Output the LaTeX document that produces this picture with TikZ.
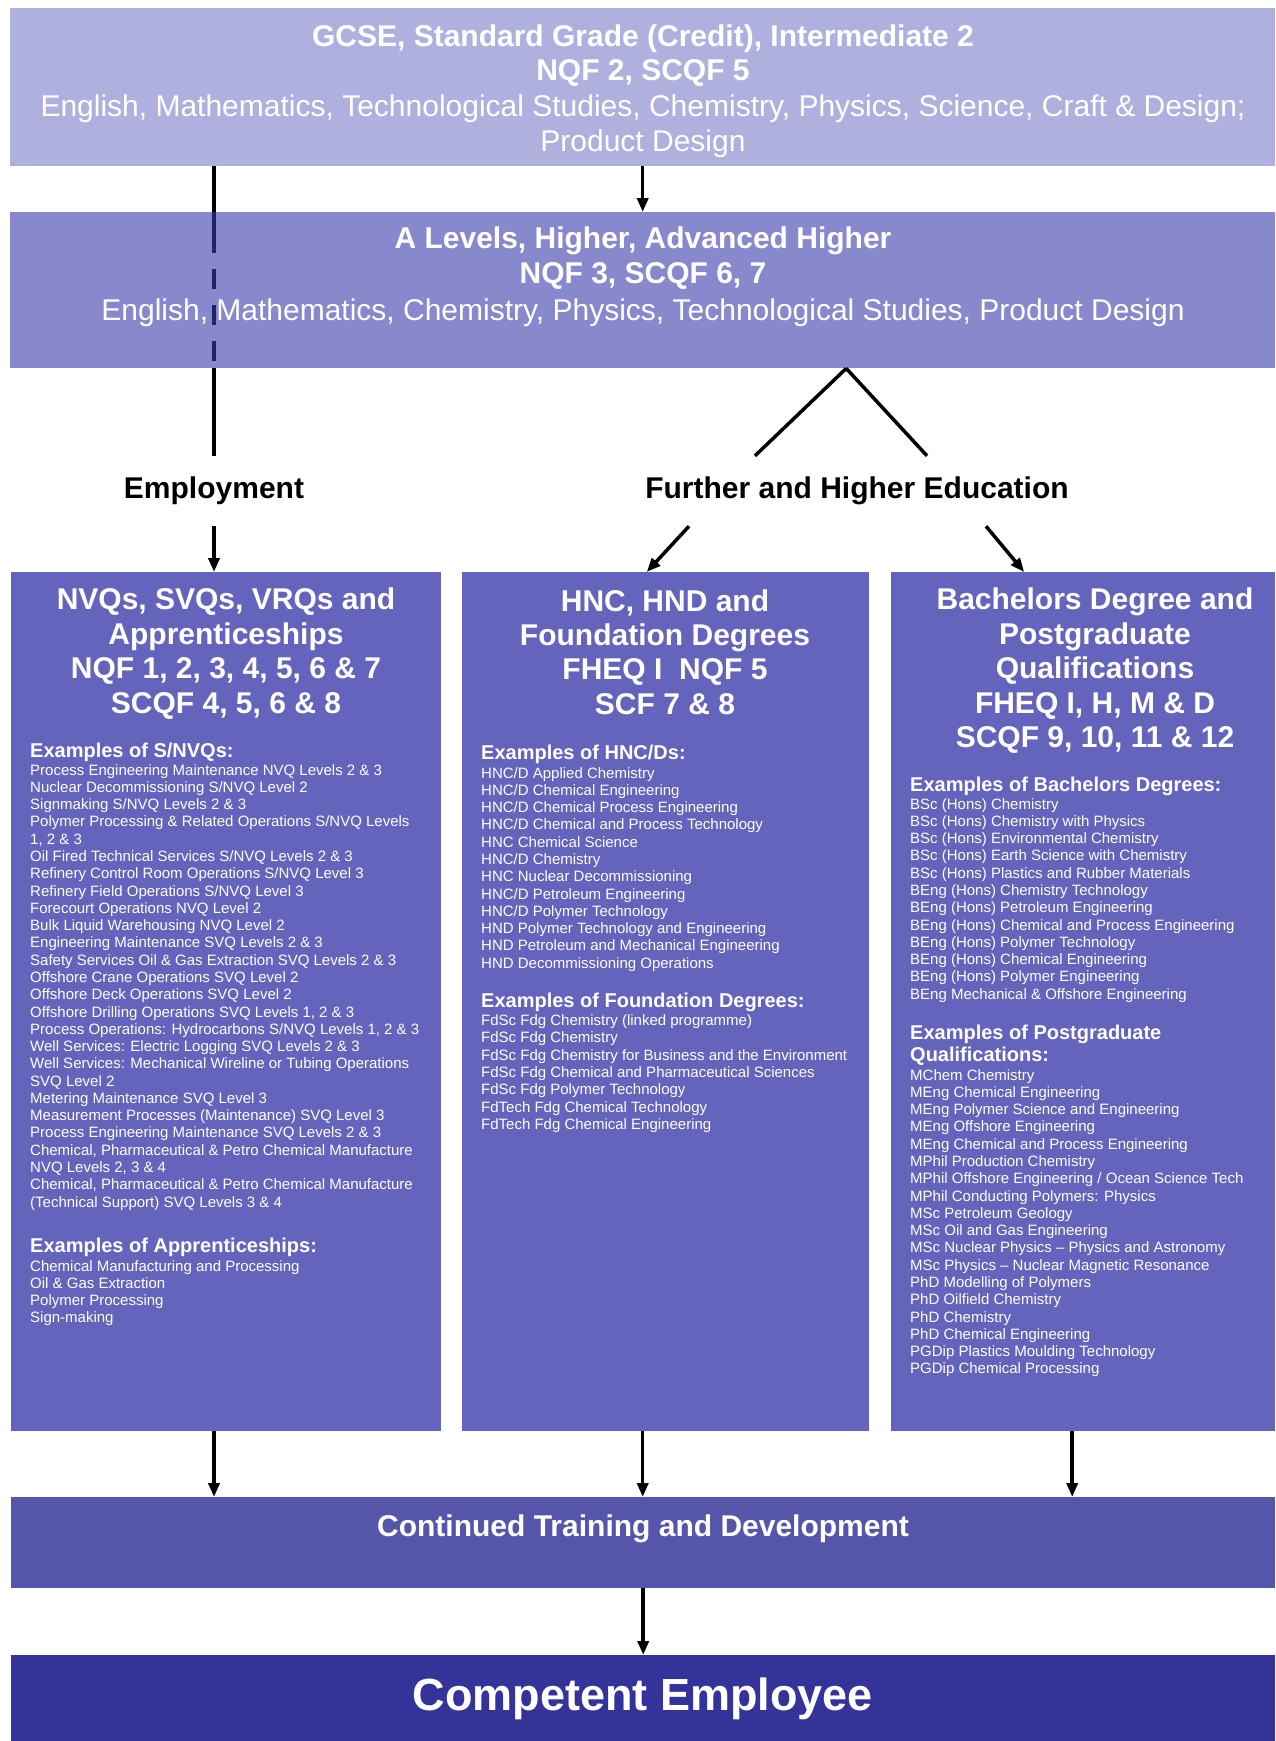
\documentclass[tikz,border=0pt]{standalone}
\usepackage{fontspec}
\setmainfont{Liberation Sans}
\usetikzlibrary{arrows.meta,calc}
\definecolor{boxA}{HTML}{B0B0DE}
\definecolor{boxB}{HTML}{8888CC}
\definecolor{boxC}{HTML}{6464BC}
\definecolor{boxD}{HTML}{5555AA}
\definecolor{boxE}{HTML}{333399}
\definecolor{navy}{HTML}{222266}
\begin{document}
\begin{tikzpicture}[x=1pt,y=-1pt,
  box/.style={draw=none, rectangle, inner sep=0pt, anchor=north west},
  conn/.style={line width=3.5pt, draw=black},
  arr/.style={conn, -{Triangle[length=14pt,width=11pt]}},
  ttl/.style={text=white, align=center, inner sep=0pt, font=\fontsize{30pt}{34.4pt}\selectfont\bfseries},
  hd/.style={text=white, align=left, inner sep=0pt, anchor=west, font=\fontsize{20pt}{22.2pt}\selectfont\bfseries},
  lst/.style={text=white, align=left, inner sep=0pt, anchor=north west, font=\fontsize{15pt}{17.28pt}\selectfont},
  lbl/.style={text=black, inner sep=0pt, minimum height=70pt, font=\fontsize{30pt}{34pt}\selectfont\bfseries}
]
\useasboundingbox (0,0) rectangle (1275,1741);

% boxes
\node[box, fill=boxA, minimum width=1265pt, minimum height=158pt] (top) at (10,8) {};
\node[box, fill=boxB, minimum width=1265pt, minimum height=156pt] (second) at (10,212) {};
\node[box, fill=boxC, minimum width=430pt, minimum height=859pt] (nvq) at (11,572) {};
\node[box, fill=boxC, minimum width=407pt, minimum height=859pt] (hnc) at (462,572) {};
\node[box, fill=boxC, minimum width=384pt, minimum height=859pt] (bach) at (891,572) {};
\node[box, fill=boxD, minimum width=1264pt, minimum height=91pt] (cont) at (11,1497) {};
\node[box, fill=boxE, minimum width=1264pt, minimum height=86pt] (comp) at (11,1655) {};

% top texts
\node[ttl] (toptxt) at (643,91) {GCSE, Standard Grade (Credit), Intermediate 2\\NQF 2, SCQF 5\\[2pt]{\mdseries English, Mathematics, Technological Studies, Chemistry, Physics, Science, Craft \& Design;}\\{\mdseries Product Design}};
\node[ttl] (sectxt) at (643,277) {A Levels, Higher, Advanced Higher\\NQF 3, SCQF 6, 7\\[3pt]{\mdseries English, Mathematics, Chemistry, Physics, Technological Studies, Product Design}};

% labels
\node[lbl] (empl) at (214,491) {Employment};
\node[lbl] (fhe) at (857,491) {Further and Higher Education};

% column titles
\node[ttl] (nvqttl) at (226,653.6) {NVQs, SVQs, VRQs and\\Apprenticeships\\NQF 1, 2, 3, 4, 5, 6 \& 7\\SCQF 4, 5, 6 \& 8};
\node[ttl] (hncttl) at (665,652) {HNC, HND and\\Foundation Degrees\\FHEQ I~~NQF 5\\SCF 7 \& 8};
\node[ttl] (bachttl) at (1095,670.8) {Bachelors Degree and\\Postgraduate\\Qualifications\\FHEQ I, H, M \& D\\SCQF 9, 10, 11 \& 12};

% left column lists
\node[hd] (nvqh1) at (30,752) {Examples of S/NVQs:};
\node[lst] (nvql1) at (30,764) {Process Engineering Maintenance NVQ Levels 2 \& 3\\
Nuclear Decommissioning S/NVQ Level 2\\
Signmaking S/NVQ Levels 2 \& 3\\
Polymer Processing \& Related Operations S/NVQ Levels\\
1, 2 \& 3\\
Oil Fired Technical Services S/NVQ Levels 2 \& 3\\
Refinery Control Room Operations S/NVQ Level 3\\
Refinery Field Operations S/NVQ Level 3\\
Forecourt Operations NVQ Level 2\\
Bulk Liquid Warehousing NVQ Level 2\\
Engineering Maintenance SVQ Levels 2 \& 3\\
Safety Services Oil \& Gas Extraction SVQ Levels 2 \& 3\\
Offshore Crane Operations SVQ Level 2\\
Offshore Deck Operations SVQ Level 2\\
Offshore Drilling Operations SVQ Levels 1, 2 \& 3\\
Process Operations: Hydrocarbons S/NVQ Levels 1, 2 \& 3\\
Well Services: Electric Logging SVQ Levels 2 \& 3\\
Well Services: Mechanical Wireline or Tubing Operations\\
SVQ Level 2\\
Metering Maintenance SVQ Level 3\\
Measurement Processes (Maintenance) SVQ Level 3\\
Process Engineering Maintenance SVQ Levels 2 \& 3\\
Chemical, Pharmaceutical \& Petro Chemical Manufacture\\
NVQ Levels 2, 3 \& 4\\
Chemical, Pharmaceutical \& Petro Chemical Manufacture\\
(Technical Support) SVQ Levels 3 \& 4};
\node[hd] (nvqh2) at (30,1247) {Examples of Apprenticeships:};
\node[lst] (nvql2) at (30,1260) {Chemical Manufacturing and Processing\\
Oil \& Gas Extraction\\
Polymer Processing\\
Sign-making};

% middle column lists
\node[hd] (hnch1) at (481,754.5) {Examples of HNC/Ds:};
\node[lst] (hncl1) at (481,767) {HNC/D Applied Chemistry\\
HNC/D Chemical Engineering\\
HNC/D Chemical Process Engineering\\
HNC/D Chemical and Process Technology\\
HNC Chemical Science\\
HNC/D Chemistry\\
HNC Nuclear Decommissioning\\
HNC/D Petroleum Engineering\\
HNC/D Polymer Technology\\
HND Polymer Technology and Engineering\\
HND Petroleum and Mechanical Engineering\\
HND Decommissioning Operations};
\node[hd] (hnch2) at (481,1002.6) {Examples of Foundation Degrees:};
\node[lst] (hncl2) at (481,1014.6) {FdSc Fdg Chemistry (linked programme)\\
FdSc Fdg Chemistry\\
FdSc Fdg Chemistry for Business and the Environment\\
FdSc Fdg Chemical and Pharmaceutical Sciences\\
FdSc Fdg Polymer Technology\\
FdTech Fdg Chemical Technology\\
FdTech Fdg Chemical Engineering};

% right column lists
\node[hd] (bachh1) at (910,786) {Examples of Bachelors Degrees:};
\node[lst] (bachl1) at (910,798) {BSc (Hons) Chemistry\\
BSc (Hons) Chemistry with Physics\\
BSc (Hons) Environmental Chemistry\\
BSc (Hons) Earth Science with Chemistry\\
BSc (Hons) Plastics and Rubber Materials\\
BEng (Hons) Chemistry Technology\\
BEng (Hons) Petroleum Engineering\\
BEng (Hons) Chemical and Process Engineering\\
BEng (Hons) Polymer Technology\\
BEng (Hons) Chemical Engineering\\
BEng (Hons) Polymer Engineering\\
BEng Mechanical \& Offshore Engineering};
\node[hd] (bachh2) at (910,1045) {Examples of Postgraduate\\Qualifications:};
\node[lst] (bachl2) at (910,1069) {MChem Chemistry\\
MEng Chemical Engineering\\
MEng Polymer Science and Engineering\\
MEng Offshore Engineering\\
MEng Chemical and Process Engineering\\
MPhil Production Chemistry\\
MPhil Offshore Engineering / Ocean Science Tech\\
MPhil Conducting Polymers: Physics\\
MSc Petroleum Geology\\
MSc Oil and Gas Engineering\\
MSc Nuclear Physics – Physics and Astronomy\\
MSc Physics – Nuclear Magnetic Resonance\\
PhD Modelling of Polymers\\
PhD Oilfield Chemistry\\
PhD Chemistry\\
PhD Chemical Engineering\\
PGDip Plastics Moulding Technology\\
PGDip Chemical Processing};

% bottom texts
\node[ttl] (conttxt) at (643,1529) {Continued Training and Development};
\node[text=white, inner sep=0pt, font=\fontsize{45pt}{50pt}\selectfont\bfseries] (comptxt) at (643,1699) {Competent Employee};

% connectors
\draw[arr] (top.south) -- (second.north);
\draw[conn] (top.south -| empl.north) -- (second.north -| empl.north);
\draw[conn, draw=navy] (second.north -| empl.north) -- ++(0,41);
\coordinate (dA) at ($(second.north -| empl.north)+(0,57)$);
\draw[conn, draw=navy, dash pattern=on 20pt off 16pt] (dA) -- (second.south -| empl.north);
\draw[conn] (second.south -| empl.north) -- (empl.north);
\draw[arr] (empl.south) -- (nvq.north -| empl.south);

\coordinate (apex) at ([xshift=203.5pt]second.south);
\draw[conn] (apex) -- ([xshift=-102pt]fhe.north);
\draw[conn] (apex) -- ([xshift=70pt]fhe.north);
\draw[arr] ([xshift=-168pt]fhe.south) -- ([xshift=-19pt]hnc.north);
\draw[arr] ([xshift=129pt]fhe.south) -- ([xshift=-59pt]bach.north);

\draw[arr] (nvq.south -| empl.south) -- (cont.north -| empl.south);
\draw[arr] (hnc.south -| top.south) -- (cont.north -| top.south);
\coordinate (bs) at ([xshift=-11pt]bach.south);
\draw[arr] (bs) -- (cont.north -| bs);
\draw[arr] (cont.south) -- (comp.north);
\end{tikzpicture}
\end{document}
